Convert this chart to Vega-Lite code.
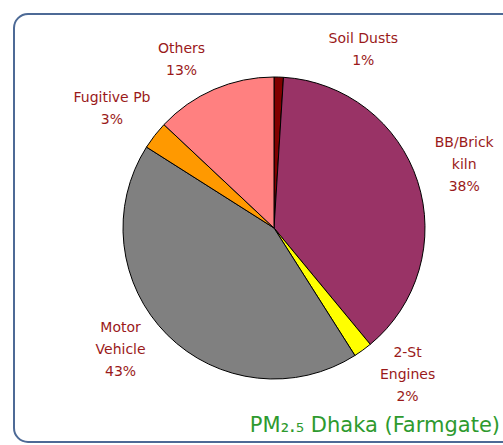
{
  "$schema": "https://vega.github.io/schema/vega-lite/v6.json",
  "width": 520,
  "height": 428,
  "autosize": {"type": "none"},
  "padding": {"left": 14, "top": 14, "right": 0, "bottom": 3},
  "background": "white",
  "view": {"stroke": "#4d6a96", "strokeWidth": 2, "cornerRadius": 14, "fill": "white"},
  "title": {"text": "PM₂.₅ Dhaka (Farmgate)", "orient": "bottom", "anchor": "end", "frame": "group", "offset": -27, "dx": -34, "color": "#2e9a2e", "font": "DejaVu Sans", "fontSize": 21, "fontWeight": "normal"},
  "data": {"values": [
    {"name": "Soil Dusts", "label": "Soil Dusts\n1%", "value": 1, "idx": 1},
    {"name": "BB/Brick kiln", "label": "BB/Brick\nkiln\n38%", "value": 38, "idx": 2},
    {"name": "2-St Engines", "label": "2-St\nEngines\n2%", "value": 2, "idx": 3},
    {"name": "Motor Vehicle", "label": "Motor\nVehicle\n43%", "value": 43, "idx": 4},
    {"name": "Fugitive Pb", "label": "Fugitive Pb\n3%", "value": 3, "idx": 5},
    {"name": "Others", "label": "Others\n13%", "value": 13, "idx": 6}
  ]},
  "encoding": {
    "theta": {"field": "value", "type": "quantitative", "stack": true},
    "order": {"field": "idx", "type": "quantitative"}
  },
  "layer": [
    {
      "mark": {"type": "arc", "outerRadius": 151, "stroke": "black", "strokeWidth": 1},
      "encoding": {
        "color": {"field": "name", "type": "nominal", "legend": null,
          "scale": {"domain": ["Soil Dusts", "BB/Brick kiln", "2-St Engines", "Motor Vehicle", "Fugitive Pb", "Others"],
                    "range": ["#800000", "#993366", "#ffff00", "#808080", "#ff9900", "#ff8080"]}}
      }
    },
    {
      "mark": {"type": "text", "radius": 200, "dx": 83, "dy": 11, "lineBreak": "\n", "lineHeight": 22, "font": "DejaVu Sans", "fontSize": 14, "fill": "#9a1a1a", "align": "center", "baseline": "middle"},
      "encoding": {"text": {"condition": {"test": "datum.name === 'Soil Dusts'", "field": "label", "type": "nominal"}, "value": ""}}
    },
    {
      "mark": {"type": "text", "radius": 200, "dx": 0, "dy": -23, "lineBreak": "\n", "lineHeight": 22, "font": "DejaVu Sans", "fontSize": 14, "fill": "#9a1a1a", "align": "center", "baseline": "middle"},
      "encoding": {"text": {"condition": {"test": "datum.name === 'BB/Brick kiln'", "field": "label", "type": "nominal"}, "value": ""}}
    },
    {
      "mark": {"type": "text", "radius": 200, "dx": 16, "dy": -37, "lineBreak": "\n", "lineHeight": 22, "font": "DejaVu Sans", "fontSize": 14, "fill": "#9a1a1a", "align": "center", "baseline": "middle"},
      "encoding": {"text": {"condition": {"test": "datum.name === '2-St Engines'", "field": "label", "type": "nominal"}, "value": ""}}
    },
    {
      "mark": {"type": "text", "radius": 200, "dx": -12, "dy": -41, "lineBreak": "\n", "lineHeight": 22, "font": "DejaVu Sans", "fontSize": 14, "fill": "#9a1a1a", "align": "center", "baseline": "middle"},
      "encoding": {"text": {"condition": {"test": "datum.name === 'Motor Vehicle'", "field": "label", "type": "nominal"}, "value": ""}}
    },
    {
      "mark": {"type": "text", "radius": 200, "dx": -4, "dy": -7, "lineBreak": "\n", "lineHeight": 22, "font": "DejaVu Sans", "fontSize": 14, "fill": "#9a1a1a", "align": "center", "baseline": "middle"},
      "encoding": {"text": {"condition": {"test": "datum.name === 'Fugitive Pb'", "field": "label", "type": "nominal"}, "value": ""}}
    },
    {
      "mark": {"type": "text", "radius": 200, "dx": -13, "dy": 5, "lineBreak": "\n", "lineHeight": 22, "font": "DejaVu Sans", "fontSize": 14, "fill": "#9a1a1a", "align": "center", "baseline": "middle"},
      "encoding": {"text": {"condition": {"test": "datum.name === 'Others'", "field": "label", "type": "nominal"}, "value": ""}}
    }
  ]
}
